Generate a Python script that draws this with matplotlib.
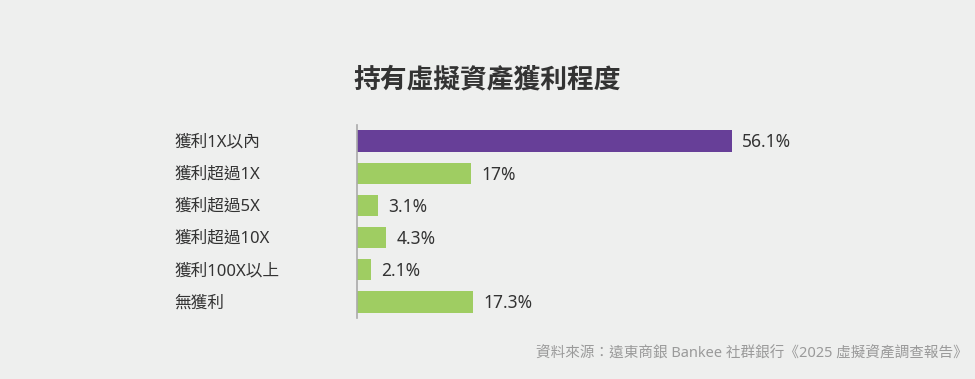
import matplotlib.pyplot as plt

plt.rcParams['font.family'] = ['Noto Sans', 'Noto Sans CJK TC', 'DejaVu Sans']

# data
categories = ['獲利1X以內', '獲利超過1X', '獲利超過5X', '獲利超過10X', '獲利100X以上', '無獲利']
values = [56.1, 17, 3.1, 4.3, 2.1, 17.3]
value_labels = ['56.1%', '17%', '3.1%', '4.3%', '2.1%', '17.3%']
title = '持有虛擬資產獲利程度'
source = '資料來源：遠東商銀 Bankee 社群銀行《2025 虛擬資產調查報告》'

bg = '#eeefee'
purple = '#673f98'
green = '#9fcd62'
colors = [purple] + [green] * (len(values) - 1)

W, H = 975, 379
ax_left, ax_right = 357, 900

fig = plt.figure(figsize=(W / 100, H / 100), dpi=100, facecolor=bg)
ax = fig.add_axes([ax_left / W, 61 / H, (ax_right - ax_left) / W, 193 / H])
ax.set_facecolor(bg)

y = range(len(categories))
ax.barh(y, values, height=0.66, color=colors)
ax.set_ylim(len(categories) - 0.5, -0.5)
ax.set_xlim(0, (ax_right - ax_left) / ((732 - ax_left) / 56.1))

# value labels at bar ends
for i, (v, lab) in enumerate(zip(values, value_labels)):
    ax.annotate(lab, (v, i), xytext=(7.5, -1), textcoords='offset points',
                va='center', ha='left', fontsize=12.5, color='#333333')

# category labels, left aligned
lab_x = -(ax_left - 174) / (ax_right - ax_left)
for i, cat in enumerate(categories):
    ax.annotate(cat, (lab_x, i), xycoords=ax.get_yaxis_transform(),
                xytext=(0, -1), textcoords='offset points',
                ha='left', va='center', fontsize=12, color='#333333')

for s in ['top', 'right', 'bottom']:
    ax.spines[s].set_visible(False)
ax.spines['left'].set_color('#aaaaaa')
ax.spines['left'].set_linewidth(1.2)
ax.set_xticks([])
ax.set_yticks([])

fig.text(0.5, 1 - 80 / H, title, ha='center', va='center',
         fontsize=19.3, fontweight='bold', color='#333333')
fig.text(968 / W, 1 - 354 / H, source, ha='right', va='center',
         fontsize=10.5, color='#9a9a9a')

fig.savefig('out.png', dpi=100, facecolor=bg)
